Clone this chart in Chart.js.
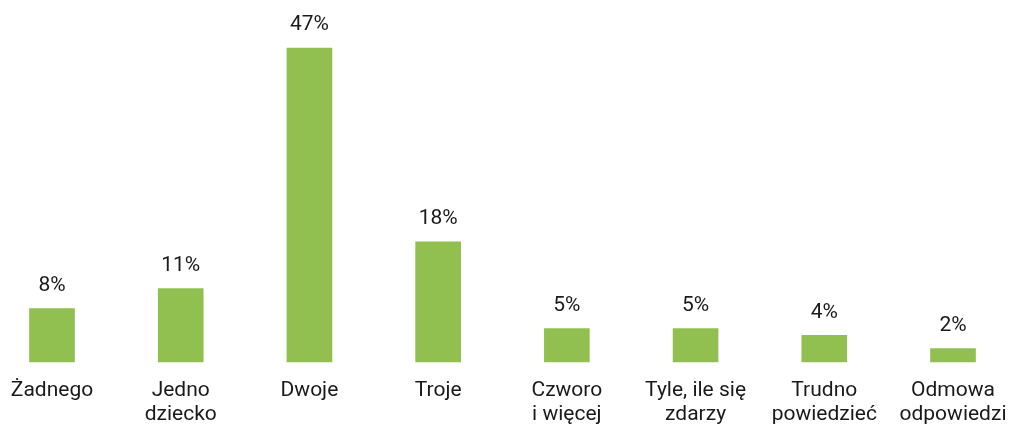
<!DOCTYPE html>
<html>
<head>
<meta charset="utf-8">
<script src="https://cdn.jsdelivr.net/npm/chart.js@4"></script>
<style>
html,body{margin:0;padding:0;background:#fff;}
#wrap{width:1009px;height:425px;position:relative;}
</style>
</head>
<body>
<div id="wrap"><canvas id="c"></canvas></div>
<script>
const categories = [
  ["Żadnego"],
  ["Jedno", "dziecko"],
  ["Dwoje"],
  ["Troje"],
  ["Czworo", "i więcej"],
  ["Tyle, ile się", "zdarzy"],
  ["Trudno", "powiedzieć"],
  ["Odmowa", "odpowiedzi"]
];
const values = [8, 11, 47, 18, 5, 5, 4, 2];
const valueLabels = ["8%", "11%", "47%", "18%", "5%", "5%", "4%", "2%"];

const FONT = "Roboto, 'Noto Sans', sans-serif";

const valueLabelPlugin = {
  id: 'valueLabels',
  afterDatasetsDraw(chart) {
    const ctx = chart.ctx;
    const meta = chart.getDatasetMeta(0);
    ctx.save();
    ctx.font = "21px " + FONT;
    ctx.fillStyle = "#1a1a1a";
    ctx.textAlign = "center";
    ctx.textBaseline = "middle";
    meta.data.forEach((bar, i) => {
      ctx.fillText(valueLabels[i], bar.x, bar.y - 23);
    });
    ctx.restore();
  }
};

new Chart(document.getElementById('c'), {
  type: 'bar',
  data: {
    labels: categories,
    datasets: [{
      data: values,
      backgroundColor: '#92C050',
      borderWidth: 0,
      barThickness: 45,
      clip: false
    }]
  },
  options: {
    responsive: true,
    maintainAspectRatio: false,
    animation: false,
    layout: { padding: { left: 52, right: 56, top: 28, bottom: 0 } },
    plugins: { legend: { display: false }, tooltip: { enabled: false } },
    scales: {
      x: {
        offset: false,
        grid: { display: false, drawTicks: false },
        border: { display: false },
        afterFit(scale) {
          scale.height = 63;
          scale.paddingLeft = 0;
          scale.paddingRight = 0;
        },
        ticks: {
          autoSkip: false,
          maxRotation: 0,
          minRotation: 0,
          padding: 16,
          color: '#1a1a1a',
          font: { family: FONT, size: 21, lineHeight: 1.18 }
        }
      },
      y: {
        display: false,
        min: 0,
        max: 50
      }
    }
  },
  plugins: [valueLabelPlugin]
});
</script>
</body>
</html>
